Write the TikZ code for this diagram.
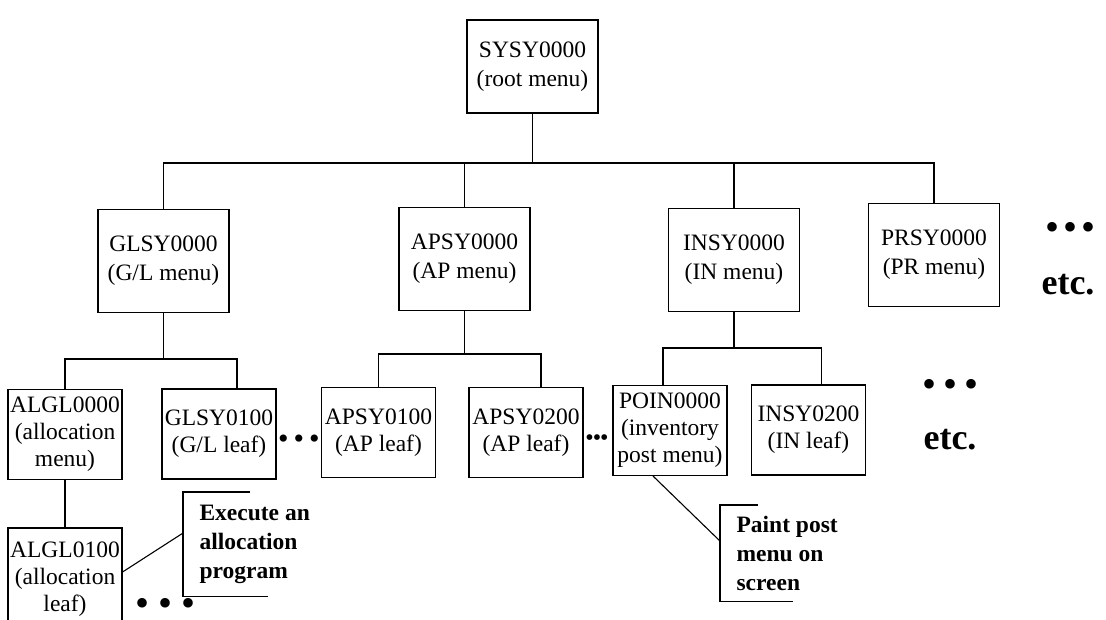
\documentclass[tikz,border=0pt]{standalone}
\usepackage{fontspec}
\setmainfont{Liberation Serif}

\begin{document}
\begin{tikzpicture}[
    x=1pt, y=-1pt, line width=1.1pt,
    menu/.style={draw, minimum width=131pt, minimum height=103pt, inner sep=0pt, align=center, font=\fontsize{23.5}{29}\selectfont},
    leaf/.style={menu, minimum width=114pt, minimum height=90pt, font=\fontsize{23.5}{27}\selectfont},
    note/.style={anchor=north west, inner xsep=16pt, inner ysep=0pt, align=left, font=\fontsize{23.5}{29}\selectfont\bfseries},
    more/.style={inner sep=0pt, font=\fontsize{40}{40}\selectfont},
    etcnote/.style={inner sep=0pt, font=\fontsize{36}{36}\selectfont\bfseries}
  ]
    \useasboundingbox (0,0) rectangle (1106,620);

    % menus
    \node[menu, minimum height=93pt] (sysy) at (532.5,66.5) {SYSY0000\\(root menu)};
    \node[menu] (glsy) at (163.5,261) {GLSY0000\\(G/L menu)};
    \node[menu] (apsy) at (464.5,259) {APSY0000\\(AP menu)};
    \node[menu] (insy) at (734,260) {INSY0000\\(IN menu)};
    \node[menu] (prsy) at (934,255) {PRSY0000\\(PR menu)};

    % leaves
    \node[leaf] (algl)  at (65,434.5)  {ALGL0000\\(allocation\\menu)};
    \node[leaf] (glsy1) at (219,434)   {GLSY0100\\(G/L leaf)};
    \node[leaf] (apsy1) at (378.5,432.5) {APSY0100\\(AP leaf)};
    \node[leaf] (apsy2) at (526,432.5) {APSY0200\\(AP leaf)};
    \node[leaf] (poin)  at (670,430.5) {POIN0000\\(inventory\\post menu)};
    \node[leaf] (insy2) at (808.5,430) {INSY0200\\(IN leaf)};
    \node[leaf, minimum height=102pt] (algl1) at (65,579) {ALGL0100\\(allocation\\leaf)};

    % tree lines
    \coordinate (b0) at (532.5,163);
    \draw (sysy) -- (b0);
    \draw (glsy) |- (b0) -| (prsy);
    \draw (apsy) -- (apsy |- b0);
    \draw (insy) -- (insy |- b0);

    \coordinate (b1) at (163.5,359);
    \draw (glsy) -- (b1);
    \draw (algl) |- (b1) -| ([xshift=18pt]glsy1.north);

    \coordinate (b2) at (464.5,354);
    \draw (apsy) -- (b2);
    \draw (apsy1) |- (b2) -| ([xshift=15pt]apsy2.north);

    \coordinate (b3) at (734,348);
    \draw (insy) -- (b3);
    \draw ([xshift=-7pt]poin.north) |- (b3) -| ([xshift=13pt]insy2.north);

    \draw (algl) -- (algl1);

    % notes
    \node[note, minimum height=103pt] (exec) at (183,492) {Execute an\\allocation\\program};
    \draw ([xshift=67pt]exec.north west) -- (exec.north west) -- (exec.south west) -- ([xshift=85pt]exec.south west);
    \draw ([yshift=7pt]algl1.east) -- ([yshift=11pt]exec.west);

    \node[note, minimum height=95pt] (paint) at (720,505) {Paint post\\menu on\\screen};
    \draw ([xshift=38pt]paint.north west) -- (paint.north west) -- (paint.south west) -- ([xshift=73pt]paint.south west);
    \draw ([xshift=-17pt]poin.south) -- ([yshift=12pt]paint.west);

    % more entries
    \node[more] (dotsA) at (1070,231) {\textbullet\hspace{4pt}\textbullet\hspace{4pt}\textbullet};
    \node[etcnote] (etcA) at (1068,285) {etc.};
    \node[more] (dotsB) at (950,388) {\textbullet\hspace{7pt}\textbullet\hspace{7pt}\textbullet};
    \node[etcnote] (etcB) at (950,440) {etc.};
    \node[more] (dotsC) at (166,607) {\textbullet\hspace{9pt}\textbullet\hspace{9pt}\textbullet};
    \node[more, font=\fontsize{30}{30}\selectfont] (dotsD) at (299,442) {\textbullet\hspace{5pt}\textbullet\hspace{5pt}\textbullet};
    \node[more, font=\fontsize{24}{24}\selectfont] (dotsE) at (597,440) {\textbullet\hspace{-1pt}\textbullet\hspace{-1pt}\textbullet};
  \end{tikzpicture}
\end{document}
